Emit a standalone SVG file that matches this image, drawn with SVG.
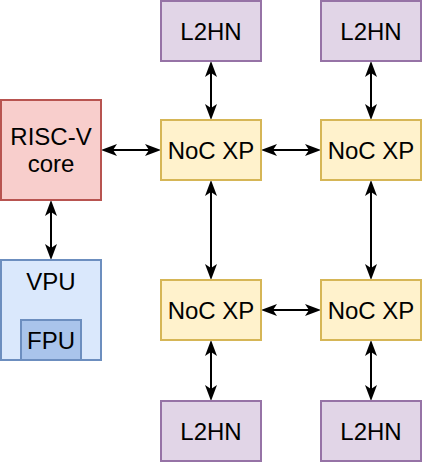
<svg xmlns="http://www.w3.org/2000/svg" width="422" height="462" viewBox="0 0 422 462">
  <style>
    .box { stroke-width: 2; }
    .red { fill: #f8cecc; stroke: #b85450; }
    .blue { fill: #dae8fc; stroke: #6c8ebf; }
    .fpu { fill: #a9c4eb; stroke: #6c8ebf; }
    .yellow { fill: #fff2cc; stroke: #d6b656; }
    .purple { fill: #e1d5e7; stroke: #9673a6; }
    text { font-family: "Liberation Sans", Arial, Helvetica, sans-serif; font-size: 24px; fill: #000000; text-anchor: middle; }
    .conn line { stroke: #000000; stroke-width: 2; marker-start: url(#arr); marker-end: url(#arr); }
  </style>
  <defs>
    <marker id="arr" markerUnits="userSpaceOnUse" markerWidth="17" markerHeight="12" refX="4" refY="6" orient="auto-start-reverse" overflow="visible">
      <path d="M0,0 L16,6 L0,12 L4,6 Z" fill="#000000"/>
    </marker>
  </defs>
  <rect width="422" height="462" fill="#ffffff"/>

  <g id="connectors" class="conn">
    <line x1="113" y1="150" x2="149" y2="150"/>
    <line x1="51" y1="212" x2="51" y2="248"/>
    <line x1="211" y1="73" x2="211" y2="108"/>
    <line x1="371" y1="73" x2="371" y2="108"/>
    <line x1="273" y1="150" x2="309" y2="150"/>
    <line x1="211" y1="192" x2="211" y2="268"/>
    <line x1="371" y1="192" x2="371" y2="268"/>
    <line x1="273" y1="310" x2="309" y2="310"/>
    <line x1="211" y1="352" x2="211" y2="389"/>
    <line x1="371" y1="352" x2="371" y2="389"/>
  </g>

  <g id="risc">
    <rect class="box red" x="1" y="100" width="100" height="100"/>
    <text x="51" y="145">RISC-V</text>
    <text x="51" y="172">core</text>
  </g>
  <g id="vpu">
    <rect class="box blue" x="1" y="260" width="100" height="100"/>
    <text x="51" y="290">VPU</text>
  </g>
  <g id="fpu">
    <rect class="box fpu" x="21" y="320" width="60" height="40"/>
    <text x="51" y="349">FPU</text>
  </g>
  <g id="noc-tl">
    <rect class="box yellow" x="161" y="120" width="100" height="60"/>
    <text x="211" y="159">NoC XP</text>
  </g>
  <g id="noc-tr">
    <rect class="box yellow" x="321" y="120" width="100" height="60"/>
    <text x="371" y="159">NoC XP</text>
  </g>
  <g id="noc-bl">
    <rect class="box yellow" x="161" y="280" width="100" height="60"/>
    <text x="211" y="319">NoC XP</text>
  </g>
  <g id="noc-br">
    <rect class="box yellow" x="321" y="280" width="100" height="60"/>
    <text x="371" y="319">NoC XP</text>
  </g>
  <g id="l2hn-tl">
    <rect class="box purple" x="161" y="1" width="100" height="60"/>
    <text x="211" y="40">L2HN</text>
  </g>
  <g id="l2hn-tr">
    <rect class="box purple" x="321" y="1" width="100" height="60"/>
    <text x="371" y="40">L2HN</text>
  </g>
  <g id="l2hn-bl">
    <rect class="box purple" x="161" y="401" width="100" height="60"/>
    <text x="211" y="440">L2HN</text>
  </g>
  <g id="l2hn-br">
    <rect class="box purple" x="321" y="401" width="100" height="60"/>
    <text x="371" y="440">L2HN</text>
  </g>
</svg>
